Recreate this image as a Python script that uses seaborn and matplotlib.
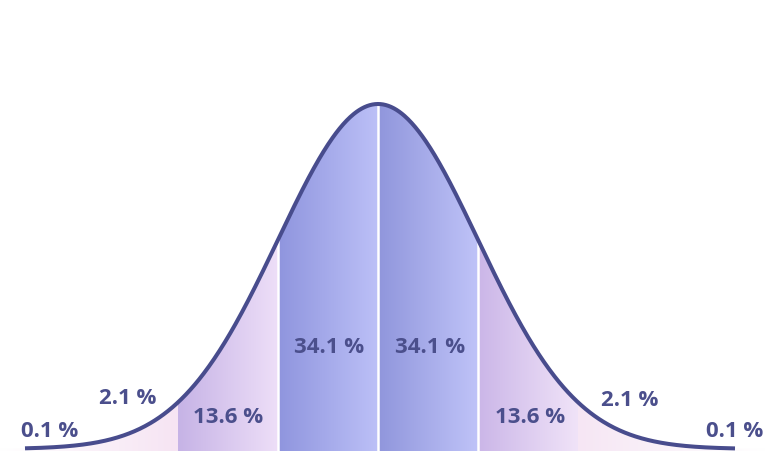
import numpy as np
import pandas as pd
import matplotlib
matplotlib.use("Agg")
import matplotlib.pyplot as plt
from matplotlib.colors import LinearSegmentedColormap
import seaborn as sns

# ---- data ----
boundaries = [-3.78, -2, -1, 0, 1, 2, 4.0]          # sigma boundaries of shaded bands
band_left_colors = ["#ffffff", "#c6b3e6", "#8f95de", "#9096dc", "#cbb6e8", "#f6e6f4"]
band_right_colors = ["#f6e4f3", "#eedff8", "#bcc0f7", "#bfc3f8", "#f0e3f8", "#ffffff"]
labels = ["0.1 %", "2.1 %", "13.6 %", "34.1 %", "34.1 %", "13.6 %", "2.1 %", "0.1 %"]
label_x = [-3.28, -2.50, -1.50, -0.49, 0.52, 1.52, 2.52, 3.57]
label_y = [0.021, 0.059, 0.038, 0.119, 0.119, 0.038, 0.057, 0.021]
separators = [-1, 0, 1]
curve_start, curve_end = -3.53, 3.57

CURVE = "#484c8d"
TEXT = "#4b4f8c"

sns.set_theme(style="white")
plt.rcParams["font.family"] = ["Open Sans", "DejaVu Sans"]

z = np.linspace(curve_start, curve_end, 800)
pdf = np.exp(-z**2 / 2) / np.sqrt(2 * np.pi)
df = pd.DataFrame({"z": z, "pdf": pdf})

fig = plt.figure(figsize=(7.78, 4.52), dpi=100)
ax = fig.add_axes([0, 0, 1, 1])
ax.set_xlim(-3.78, 4.0)
ymax_data = pdf.max()
ax.set_ylim(-2 / 345 * ymax_data, 450 / 345 * ymax_data)
ax.axis("off")

# gradient bands clipped under curve
for i in range(len(boundaries) - 1):
    x0, x1 = boundaries[i], boundaries[i + 1]
    zz = np.linspace(max(x0, curve_start - 0.3), min(x1, curve_end + 0.3), 200)
    pp = np.exp(-zz**2 / 2) / np.sqrt(2 * np.pi)
    poly = ax.fill_between(zz, 0 - 0.01, pp, color="none", lw=0)
    cmap = LinearSegmentedColormap.from_list(f"b{i}", [band_left_colors[i], band_right_colors[i]])
    grad = np.linspace(0, 1, 256).reshape(1, -1)
    im = ax.imshow(grad, cmap=cmap, aspect="auto",
                   extent=[zz[0], zz[-1], -0.01, ymax_data + 0.01], zorder=1)
    path = poly.get_paths()[0]
    im.set_clip_path(path, transform=ax.transData)

# white separators
for s in separators:
    top = np.exp(-s**2 / 2) / np.sqrt(2 * np.pi)
    ax.plot([s, s], [-0.01, top], color="white", lw=1.8, zorder=2)

sns.lineplot(data=df, x="z", y="pdf", ax=ax, color=CURVE, lw=2.9, zorder=3,
             solid_capstyle="butt")
ax.axis("off")

for t, x, y in zip(labels, label_x, label_y):
    ax.text(x, y, t, ha="center", va="center", fontsize=16, fontweight="bold",
            color=TEXT, zorder=4)

fig.savefig("out.png", dpi=100, facecolor="white")
